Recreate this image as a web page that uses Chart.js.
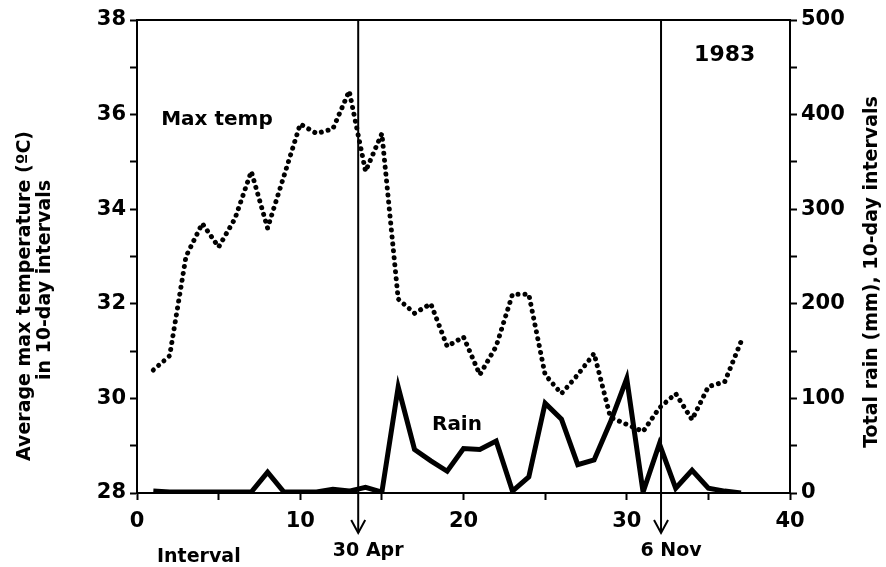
<!DOCTYPE html>
<html>
<head>
<meta charset="utf-8">
<script src="https://cdn.jsdelivr.net/npm/chart.js@4.4.0/dist/chart.umd.min.js"></script>
<style>
  html, body { margin: 0; padding: 0; background: #fff; }
  #wrap { width: 886px; height: 567px; position: relative; }
</style>
</head>
<body>
<div id="wrap"><canvas id="climateChart"></canvas></div>
<script>
// 10-day intervals, 1983
const intervals = [1, 2, 3, 4, 5, 6, 7, 8, 9, 10, 11, 12, 13, 14, 15, 16, 17, 18, 19,
  20, 21, 22, 23, 24, 25, 26, 27, 28, 29, 30, 31, 32, 33, 34, 35, 36, 37]
// average max temperature (ºC)
const maxTemp = [30.6, 30.9, 33.0, 33.7, 33.2, 33.8, 34.8, 33.6, 34.7, 35.8, 35.6, 35.7, 36.5,
  34.8, 35.6, 32.1, 31.8, 32.0, 31.1, 31.3, 30.5, 31.1, 32.2, 32.2, 30.5, 30.1, 30.5,
  30.95, 29.6, 29.45, 29.3, 29.8, 30.1, 29.55, 30.25, 30.35, 31.2]
// total rain (mm)
const rain = [2, 1, 1, 1, 1, 1, 1, 22, 1, 1, 1, 4, 2, 6, 1, 112, 46, 34, 23, 47, 46, 55,
  2, 17, 95, 78, 30, 35, 75, 121, 1, 52, 5, 24, 5, 2, 0]
// season markers (interval position)
const markerPos = [13.55, 32.1]
const markerLabels = ["30 Apr", "6 Nov"]

const tempPoints = intervals.map((x, i) => ({ x: x, y: maxTemp[i] }))
const rainPoints = intervals.map((x, i) => ({ x: x, y: rain[i] }))

const FONT = "'DejaVu Sans', sans-serif"

const annotate = {
  id: "annotate",
  afterDatasetsDraw(chart) {
    const { ctx, chartArea, scales } = chart
    const x = scales.x, y = scales.y
    ctx.save()
    ctx.strokeStyle = "#000"
    ctx.fillStyle = "#000"
    // top frame line
    ctx.lineWidth = 2
    ctx.beginPath()
    ctx.moveTo(chartArea.left, chartArea.top)
    ctx.lineTo(chartArea.right, chartArea.top)
    ctx.stroke()

    // marker lines with arrows
    ctx.font = "bold 19px " + FONT
    ctx.textAlign = "center"
    ctx.textBaseline = "middle"
    markerPos.forEach((m, i) => {
      const px = x.getPixelForValue(m)
      const tip = chartArea.bottom + 40
      ctx.lineWidth = 2
      ctx.beginPath()
      ctx.moveTo(px, chartArea.top)
      ctx.lineTo(px, tip)
      ctx.stroke()
      ctx.beginPath()
      ctx.moveTo(px - 7, tip - 13)
      ctx.lineTo(px, tip)
      ctx.lineTo(px + 7, tip - 13)
      ctx.stroke()
      ctx.fillText(markerLabels[i], px + 10, chartArea.bottom + 58)
    })

    ctx.textAlign = "left"
    ctx.fillText("Interval", chartArea.left + 20, chartArea.bottom + 64)

    ctx.textAlign = "center"
    ctx.font = "bold 20px " + FONT
    ctx.fillText("Max temp", x.getPixelForValue(4.9), y.getPixelForValue(35.9))
    ctx.fillText("Rain", x.getPixelForValue(19.6), y.getPixelForValue(29.45))
    ctx.font = "bold 22px " + FONT
    ctx.fillText("1983", x.getPixelForValue(36.0), y.getPixelForValue(37.25))

    // axis titles, both reading bottom to top
    ctx.font = "bold 19px " + FONT
    const vtext = (t, cx, cy) => {
      ctx.save()
      ctx.translate(cx, cy)
      ctx.rotate(-Math.PI / 2)
      ctx.fillText(t, 0, 0)
      ctx.restore()
    }
    vtext("Average max temperature (ºC)", 25, 296)
    vtext("in 10-day intervals", 45, 280)
    vtext("Total rain (mm), 10-day intervals", 872, 272)
    ctx.restore()
  }
}

const axisCommon = {
  border: { display: true, color: "#000", width: 2 },
  grid: { drawOnChartArea: false, drawTicks: true, tickLength: 7, color: "#000", tickWidth: 2 },
}

new Chart(document.getElementById("climateChart"), {
  type: "line",
  data: {
    datasets: [
      {
        label: "Max temp",
        data: tempPoints,
        yAxisID: "y",
        borderColor: "#000",
        borderWidth: 5,
        borderDash: [0.01, 7],
        borderCapStyle: "round",
        pointRadius: 0,
        tension: 0,
        fill: false,
      },
      {
        label: "Rain",
        data: rainPoints,
        yAxisID: "y2",
        borderColor: "#000",
        borderWidth: 5,
        borderJoinStyle: "miter",
        pointRadius: 0,
        tension: 0,
        fill: false,
      },
    ],
  },
  options: {
    responsive: true,
    maintainAspectRatio: false,
    animation: false,
    layout: { padding: { top: 20, left: 0, right: 0, bottom: 0 } },
    plugins: {
      legend: { display: false },
      tooltip: { enabled: false },
    },
    scales: {
      x: {
        type: "linear",
        min: 0,
        max: 40,
        ...axisCommon,
        ticks: {
          stepSize: 5,
          color: "#000",
          font: { family: FONT, size: 21, weight: "bold" },
          padding: 9,
          maxRotation: 0,
          callback: (v) => (v % 10 === 0 ? v : ""),
        },
        afterFit: (s) => { s.height = 74 },
      },
      y: {
        position: "left",
        min: 28,
        max: 38,
        ...axisCommon,
        ticks: {
          stepSize: 1,
          color: "#000",
          font: { family: FONT, size: 21, weight: "bold" },
          padding: 4,
          callback: (v) => (v % 2 === 0 ? v : ""),
        },
        afterFit: (s) => { s.width = 137 },
      },
      y2: {
        position: "right",
        min: 0,
        max: 500,
        ...axisCommon,
        ticks: {
          stepSize: 50,
          color: "#000",
          font: { family: FONT, size: 21, weight: "bold" },
          padding: 4,
          callback: (v) => (v % 100 === 0 ? v : ""),
        },
        afterFit: (s) => { s.width = 96 },
      },
    },
  },
  plugins: [annotate],
})
</script>
</body>
</html>
